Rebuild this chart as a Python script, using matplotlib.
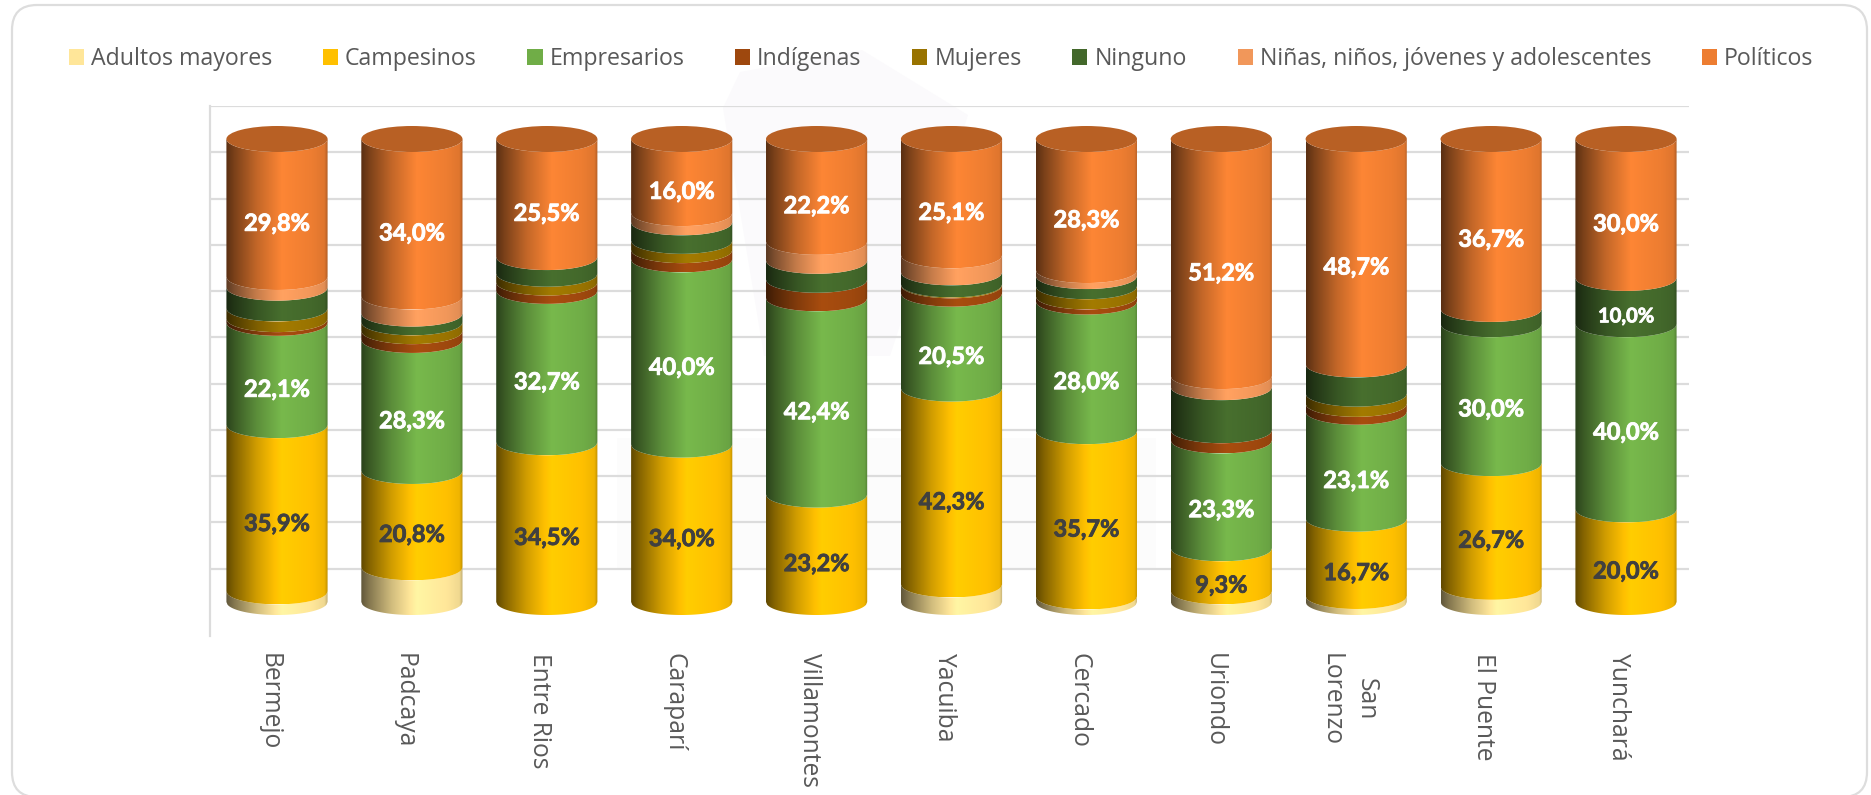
import numpy as np
import matplotlib
matplotlib.use('Agg')
import matplotlib.pyplot as plt
import matplotlib.patheffects as pe
from matplotlib.patches import Ellipse, FancyBboxPatch, Patch, Polygon, Rectangle
from matplotlib.transforms import ScaledTranslation

W, H = 1871, 795

municipios = ['Bermejo', 'Padcaya', 'Entre Rios', 'Caraparí', 'Villamontes', 'Yacuiba',
              'Cercado', 'Uriondo', 'San\nLorenzo', 'El Puente', 'Yunchará']
series = ['Adultos mayores', 'Campesinos', 'Empresarios', 'Indígenas', 'Mujeres', 'Ninguno',
          'Niñas, niños, jóvenes y adolescentes', 'Políticos']
colores = ['#FFE699', '#FFC000', '#70AD47', '#9E480E', '#997300', '#43682B', '#F1975A', '#ED7D31']

adultos = [2.3, 7.5, 0, 0, 0, 3.8, 1.2, 2.3, 1.3, 3.3, 0]
campesinos = [35.9, 20.8, 34.5, 34.0, 23.2, 42.3, 35.7, 9.3, 16.7, 26.7, 20.0]
empresarios = [22.1, 28.3, 32.7, 40.0, 42.4, 20.5, 28.0, 23.3, 23.1, 30.0, 40.0]
indigenas = [0.8, 1.9, 1.8, 2.0, 4.0, 1.8, 1.1, 2.2, 1.7, 0, 0]
mujeres = [2.3, 1.9, 1.9, 2.0, 0, 0.2, 2.2, 0, 2.2, 0, 0]
ninguno = [4.5, 1.9, 3.6, 4.0, 4.1, 2.6, 2.2, 9.3, 6.3, 3.3, 10.0]
ninas = [2.3, 3.7, 0, 2.0, 4.1, 3.7, 1.3, 2.4, 0, 0, 0]
politicos = [29.8, 34.0, 25.5, 16.0, 22.2, 25.1, 28.3, 51.2, 48.7, 36.7, 30.0]
valores = [adultos, campesinos, empresarios, indigenas, mujeres, ninguno, ninas, politicos]

# which series get a label, from what value up, and in which colour
etiqueta_min = {1: 0, 2: 0, 5: 10, 7: 0}
etiqueta_color = {1: '#404040', 2: 'white', 5: 'white', 7: 'white'}

# pixel layout of the reference
ax_left, ax_right, ax_top, ax_bottom = 209.5, 1689, 106, 636
px_per_pct = 4.63
px_per_bar = 134.9
first_bar = 277
wall_zero = 615
bar_zero = 602
cap_px = 13
cap = cap_px / px_per_pct
bar_w = 0.75

# left to right shading of a cylinder
shade_pos = [0, 0.08, 0.3, 0.55, 0.85, 0.97, 1]
shade_val = [0.38, 0.52, 0.82, 1.07, 1.0, 0.94, 0.75]


def gradiente(color):
    rgb = np.array(matplotlib.colors.to_rgb(color))
    t = np.linspace(0, 1, 128)
    m = np.interp(t, shade_pos, shade_val)
    return np.clip(m[:, None] * rgb, 0, 1)[None, :, :]


def cilindro(ax, x, base, alto, color):
    # side of one segment, the edges follow the front of the ellipse
    u = np.linspace(-1, 1, 90)
    xs = x + u * bar_w / 2
    arco = cap * np.sqrt(1 - u ** 2)
    abajo = np.column_stack([xs, base - arco])
    arriba = np.column_stack([xs[::-1], (base + alto - arco)[::-1]])
    forma = Polygon(np.vstack([abajo, arriba]), closed=True, transform=ax.transData,
                    facecolor='none', edgecolor='none')
    ax.add_patch(forma)
    im = ax.imshow(gradiente(color), extent=[x - bar_w / 2, x + bar_w / 2, base - cap, base + alto],
                   aspect='auto', interpolation='bilinear', zorder=2)
    im.set_clip_path(forma)


fig = plt.figure(figsize=(W / 100, H / 100), dpi=100, facecolor='white')
pos = [ax_left / W, 1 - ax_bottom / H, (ax_right - ax_left) / W, (ax_bottom - ax_top) / H]
x_lim = ((ax_left - first_bar) / px_per_bar, (ax_right - first_bar) / px_per_bar)

# card around the chart and the faint logo behind it
fondo = fig.add_axes([0, 0, 1, 1], zorder=0)
fondo.set_xlim(0, W)
fondo.set_ylim(H, 0)
fondo.axis('off')
fondo.add_patch(FancyBboxPatch((12, 5), 1855, 792, boxstyle='round,pad=0,rounding_size=25',
                               facecolor='white', edgecolor='#DDDDDD', linewidth=1.6, clip_on=False))
fondo.add_patch(Polygon([(740, 72), (862, 50), (968, 115), (890, 356), (764, 356), (723, 108)],
                        facecolor='#FBFAFC', edgecolor='none'))
fondo.add_patch(Rectangle((617, 438), 539, 132, facecolor='#FCFCFC', edgecolor='none'))

# back wall with the gridlines
pared = fig.add_axes(pos, zorder=1)
pared.set_facecolor('none')
pared.set_xlim(*x_lim)
pared.set_ylim((wall_zero - ax_bottom) / px_per_pct, (wall_zero - ax_top) / px_per_pct)
pared.set_yticks(np.arange(10, 120, 10))
pared.set_yticklabels([])
pared.tick_params(left=False, bottom=False)
pared.grid(axis='y', color='#DCDCDC', linewidth=1.6)
pared.set_axisbelow(True)
pared.set_xticks(range(len(municipios)))
pared.set_xticklabels(municipios, rotation=270, ha='center', va='top', multialignment='center',
                      fontsize=17.7, color='#595959', family='Open Sans', linespacing=1.5)
pared.tick_params(axis='x', pad=8.5)
for lab in pared.get_xticklabels():
    lab.set_transform(lab.get_transform() + ScaledTranslation(-7.5 / 100, 0, fig.dpi_scale_trans))
for s in ['top', 'right', 'bottom']:
    pared.spines[s].set_visible(False)
pared.spines['left'].set_color('#DCDCDC')
pared.spines['left'].set_linewidth(1.6)

# cylinders in front
ax = fig.add_axes(pos, zorder=2)
ax.set_facecolor('none')
ax.axis('off')
acumulado = np.zeros(len(municipios))
for i, vals in enumerate(valores):
    for j, v in enumerate(vals):
        if v <= 0:
            continue
        cilindro(ax, j, acumulado[j], v, colores[i])
        if i in etiqueta_min and v >= etiqueta_min[i]:
            ax.text(j, acumulado[j] + v / 2 - cap - 0.5, f'{v:.1f}%'.replace('.', ','),
                    ha='center', va='center', color=etiqueta_color[i], fontweight='bold',
                    family='Lato', fontsize=14.5 if i == 5 else 17, zorder=4,
                    path_effects=[pe.withStroke(linewidth=0.6, foreground=etiqueta_color[i])])
    acumulado += np.array(vals)
for j, total in enumerate(acumulado):
    ax.add_patch(Ellipse((j, total), bar_w, 2 * cap, facecolor='#B86024', edgecolor='none', zorder=3))
ax.set_xlim(*x_lim)
ax.set_ylim((bar_zero - ax_bottom) / px_per_pct, (bar_zero - ax_top) / px_per_pct)

handles = [Patch(facecolor=c, edgecolor='none') for c in colores]
fig.legend(handles, series, ncol=8, loc='center', bbox_to_anchor=(941 / W, 1 - 59 / H), frameon=False,
           prop={'family': 'Open Sans', 'size': 16.7}, labelcolor='#595959', handlelength=0.65, handleheight=0.65,
           handletextpad=0.3, columnspacing=2.19, borderpad=0, borderaxespad=0)

fig.savefig('out.png', dpi=100)
